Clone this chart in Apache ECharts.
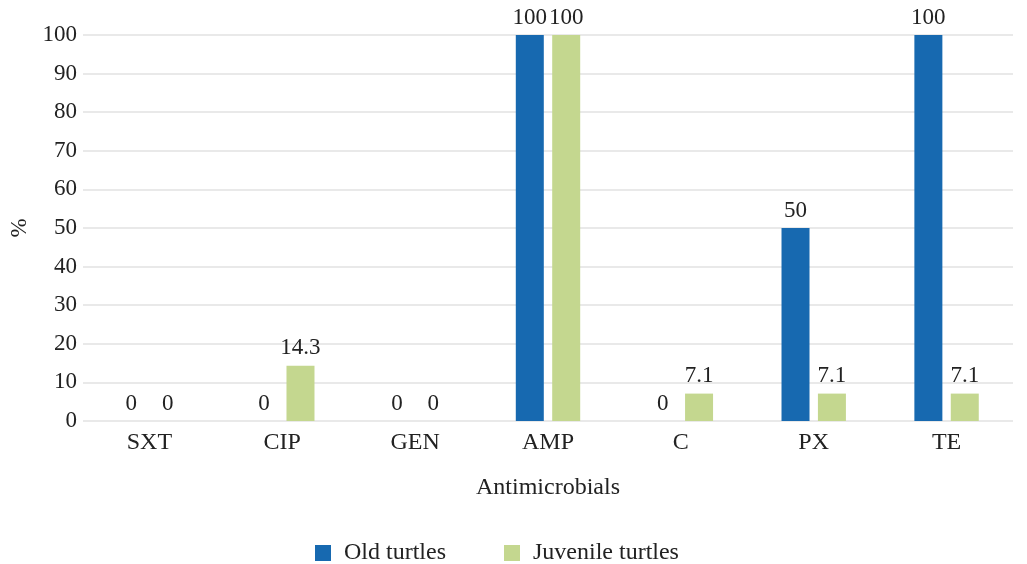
<!DOCTYPE html>
<html>
<head>
<meta charset="utf-8">
<script src="https://cdn.jsdelivr.net/npm/echarts@6/dist/echarts.min.js"></script>
<style>
  html, body { margin: 0; padding: 0; background: #ffffff; }
  #chart { width: 1027px; height: 564px; }
</style>
</head>
<body>
<div id="chart"></div>
<script>
// Antimicrobial resistance by turtle age group (%)
const categories = ['SXT', 'CIP', 'GEN', 'AMP', 'C', 'PX', 'TE'];
const oldTurtles = [0, 0, 0, 100, 0, 50, 100];
const juvenileTurtles = [0, 14.3, 0, 100, 7.1, 7.1, 7.1];
const seriesNames = ['Old turtles', 'Juvenile turtles'];

const FONT = '"Liberation Serif", "Times New Roman", serif';
const TXT = '#222222';
const BLUE = '#1769b0';
const GREEN = '#c4d78f';

const chart = echarts.init(document.getElementById('chart'), null, { renderer: 'canvas' });

const labelStyle = {
  show: true,
  position: 'top',
  distance: 6,
  fontFamily: FONT,
  fontSize: 23,
  color: TXT
};

chart.setOption({
  animation: false,
  backgroundColor: '#ffffff',
  grid: { left: 72, right: 14, top: 35, bottom: 143, containLabel: false },
  legend: {
    data: seriesNames,
    top: 536,
    left: 310,
    itemWidth: 16,
    itemHeight: 16,
    itemGap: 58,
    icon: 'rect',
    textStyle: { fontFamily: FONT, fontSize: 24, color: TXT, padding: [0, 0, 0, 8] }
  },
  xAxis: {
    type: 'category',
    data: categories,
    name: 'Antimicrobials',
    nameLocation: 'middle',
    nameGap: 55,
    nameTextStyle: { fontFamily: FONT, fontSize: 24, color: TXT },
    axisLine: { show: false },
    axisTick: { show: false },
    axisLabel: { fontFamily: FONT, fontSize: 24, color: TXT, margin: 10 }
  },
  yAxis: {
    type: 'value',
    min: 0,
    max: 100,
    interval: 10,
    name: '%',
    nameLocation: 'middle',
    nameGap: 52,
    nameRotate: 90,
    nameTextStyle: { fontFamily: FONT, fontSize: 23, color: TXT },
    axisLine: { show: false },
    axisTick: { show: false },
    axisLabel: { fontFamily: FONT, fontSize: 23, color: TXT, margin: 6 },
    splitLine: { lineStyle: { color: '#e2e2e2', width: 1.5 } }
  },
  series: [
    {
      name: seriesNames[0],
      type: 'bar',
      data: oldTurtles,
      barWidth: 28,
      barGap: '30%',
      itemStyle: { color: BLUE },
      label: labelStyle
    },
    {
      name: seriesNames[1],
      type: 'bar',
      data: juvenileTurtles,
      barWidth: 28,
      barGap: '30%',
      itemStyle: { color: GREEN },
      label: labelStyle
    }
  ]
});
</script>
</body>
</html>
